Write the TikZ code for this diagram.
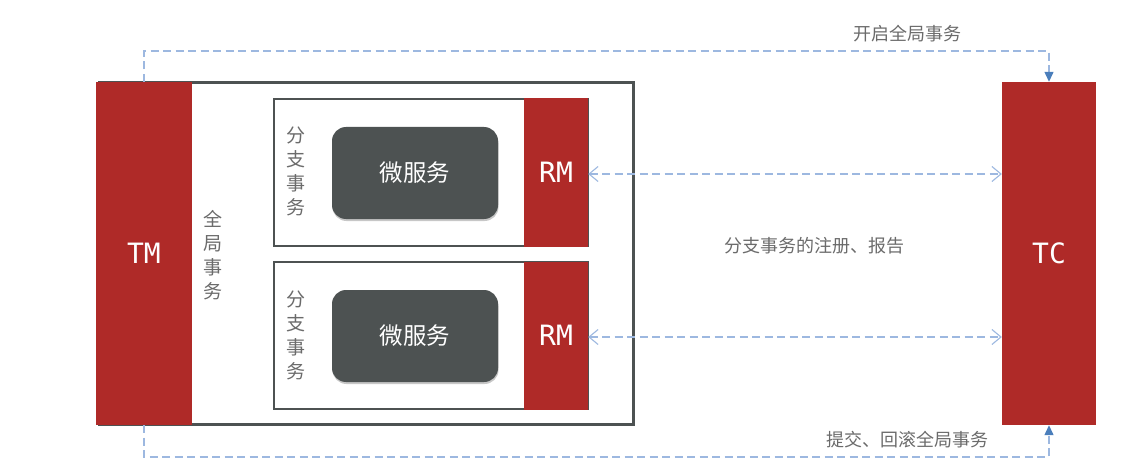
\documentclass[tikz,border=0pt]{standalone}
\usepackage{fontspec}
\setmainfont{Noto Sans CJK SC}
\newfontfamily\monofont{DejaVu Sans Mono}
\usetikzlibrary{arrows.meta,shadows,calc}
\definecolor{tred}{HTML}{AF2A28}
\definecolor{dgray}{HTML}{4D5252}
\definecolor{lgray}{HTML}{6B6B6B}
\definecolor{dblue}{HTML}{9DB8E0}
\definecolor{hblue}{HTML}{4A7EBB}
\tikzset{
  redbar/.style={fill=tred,draw=none,text=white,font=\monofont\fontsize{28}{32}\selectfont,inner sep=0pt},
  svcbox/.style={fill=dgray,draw=none,rounded corners=14pt,text=white,
    font=\fontsize{23.5}{27}\selectfont,minimum width=166pt,minimum height=92pt,
    drop shadow={shadow xshift=0.5pt,shadow yshift=-2pt,opacity=0.22,fill=black}},
  branchbox/.style={draw=dgray,line width=1.6pt,fill=white,inner sep=0pt},
  vlabel/.style={text=lgray,align=center,font=\fontsize{19}{24}\selectfont,inner sep=0pt},
  lbl/.style={text=lgray,font=\fontsize{18}{20}\selectfont,inner sep=0pt},
  dashline/.style={draw=dblue,line width=1.3pt,dash pattern=on 8pt off 4.5pt},
  dbl/.style={dashline,{Straight Barb[length=9pt,width=15pt,line width=1.1pt]}-{Straight Barb[length=9pt,width=15pt,line width=1.1pt]}},
  hd/.style={dashline,-{Triangle[length=10pt,width=9pt,color=hblue]}},
}
\begin{document}
\begin{tikzpicture}[x=1pt,y=-1pt]
\useasboundingbox (0,0) rectangle (1138,476);
% outer global transaction box
\node[draw=dgray,line width=3pt,fill=white,minimum width=534pt,minimum height=341pt,inner sep=0pt] (outer) at (366,253.5) {};
% TM and TC
\node[redbar,minimum width=96pt,minimum height=343pt] (TM) at (144,253.5) {TM};
\node[redbar,minimum width=94pt,minimum height=343pt] (TC) at (1049,253.5) {TC};
% branch boxes
\node[branchbox,minimum width=314pt,minimum height=147pt] (b1) at (431,172.5) {};
\node[branchbox,minimum width=314pt,minimum height=147pt] (b2) at (431,335.5) {};
\node[redbar,minimum width=64pt,minimum height=148pt] (RM1) at (556,172.5) {RM};
\node[redbar,minimum width=64pt,minimum height=148pt] (RM2) at (556,335.5) {RM};
\node[svcbox] (s1) at (415,173) {微服务};
\node[svcbox] (s2) at (415,336) {微服务};
% vertical labels
\node[vlabel] (g) at (213,255) {全\\局\\事\\务};
\node[vlabel] (v1) at (296,171) {分\\支\\事\\务};
\node[vlabel] (v2) at (296,335) {分\\支\\事\\务};
% coordinates
\coordinate (topc) at (600,51);
\coordinate (botc) at (600,457);
\coordinate (a1) at ($(RM1.east)+(0,1.5)$);
\coordinate (a2) at ($(RM2.east)+(0,1.5)$);
% connectors
\draw[hd] (TM.north) |- (topc) -| (TC.north);
\draw[hd] (TM.south) |- (botc) -| (TC.south);
\draw[dbl] (a1) -- (a1 -| TC.west);
\draw[dbl] (a2) -- (a2 -| TC.west);
% labels
\node[lbl] (l1) at (907,34) {开启全局事务};
\node[lbl] (l2) at (814,246) {分支事务的注册、报告};
\node[lbl] (l3) at (907,440) {提交、回滚全局事务};
\end{tikzpicture}
\end{document}
